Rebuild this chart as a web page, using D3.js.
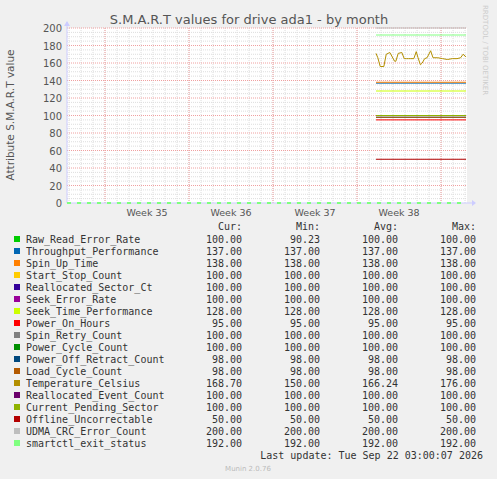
<!DOCTYPE html>
<html>
<head>
<script src="https://d3js.org/d3.v7.min.js"></script>
<style>
  body { margin: 0; background: #f0f0f0; }
  text { font-family: "DejaVu Sans", sans-serif; }
  .mono { font-family: "DejaVu Sans Mono", monospace; font-size: 10px; fill: #333; }
</style>
</head>
<body>
<svg id="chart" width="497" height="479"></svg>
<script>
const names = ["Raw_Read_Error_Rate", "Throughput_Performance", "Spin_Up_Time", "Start_Stop_Count",
  "Reallocated_Sector_Ct", "Seek_Error_Rate", "Seek_Time_Performance", "Power_On_Hours",
  "Spin_Retry_Count", "Power_Cycle_Count", "Power_Off_Retract_Count", "Load_Cycle_Count",
  "Temperature_Celsius", "Reallocated_Event_Count", "Current_Pending_Sector", "Offline_Uncorrectable",
  "UDMA_CRC_Error_Count", "smartctl_exit_status"];
const colors = ["#00cc00", "#0066b3", "#ff8000", "#ffcc00", "#330099", "#990099", "#ccff00", "#ff0000",
  "#808080", "#008f00", "#00487d", "#b35a00", "#b38f00", "#6b006b", "#8fb300", "#b30000",
  "#bebebe", "#80ff80"];
const cur = [100, 137, 138, 100, 100, 100, 128, 95, 100, 100, 98, 98, 168.70, 100, 100, 50, 200, 192];
const mins = [90.23, 137, 138, 100, 100, 100, 128, 95, 100, 100, 98, 98, 150, 100, 100, 50, 200, 192];
const avgs = [100, 137, 138, 100, 100, 100, 128, 95, 100, 100, 98, 98, 166.24, 100, 100, 50, 200, 192];
const maxs = [100, 137, 138, 100, 100, 100, 128, 95, 100, 100, 98, 98, 176, 100, 100, 50, 200, 192];
// days since plot start
const dataStart = 25.75, dataEnd = 33.25;
const tempDays = [25.75, 25.9, 26.1, 26.4, 26.6, 26.75, 26.9, 27.3, 27.4, 27.6, 27.9, 28.1, 28.3, 28.45, 28.6,
  28.9, 29.1, 29.25, 29.45, 29.6, 29.8, 30.0, 30.3, 30.5, 30.9, 31.3, 31.7, 32.1, 32.5, 32.8, 33.0, 33.25];
const tempVals = [171, 166, 156, 156, 170, 171, 172, 162, 162, 171, 172, 165, 165, 165, 165,
  165, 173, 166, 158, 160, 165, 166, 174, 166, 166, 165, 164, 165, 165, 166, 170, 167];
const weekLabels = ["Week 35", "Week 36", "Week 37", "Week 38"];
const yTicks = [0, 20, 40, 60, 80, 100, 120, 140, 160, 180, 200];

const svg = d3.select("#chart");
const x = d3.scaleLinear().domain([0, 33.33]).range([67, 467]);
const y = d3.scaleLinear().domain([0, 200]).range([203, 28]);
const firstWeek = 38 / 12; // first week boundary in days

svg.append("rect").attr("x", 67).attr("y", 28).attr("width", 400).attr("height", 175).attr("fill", "#fff");

// minor grid
for (let d = firstWeek - 3; d < 33.33; d += 1) {
  if (d <= 0) continue;
  svg.append("line").attr("x1", x(d)).attr("x2", x(d)).attr("y1", 28).attr("y2", 203)
    .attr("stroke", "#ddd").attr("stroke-dasharray", "1,1");
}
for (let v = 5; v <= 200; v += 5) {
  svg.append("line").attr("x1", 67).attr("x2", 467).attr("y1", y(v)).attr("y2", y(v))
    .attr("stroke", v % 20 === 0 ? "#f0a0a0" : "#ddd").attr("stroke-dasharray", "1,1");
}
for (let i = 0; i < 5; i++) {
  const d = firstWeek + i * 7;
  svg.append("line").attr("x1", x(d)).attr("x2", x(d)).attr("y1", 28).attr("y2", 203)
    .attr("stroke", "#f0a0a0").attr("stroke-dasharray", "1,1");
}

// axes
svg.append("line").attr("x1", 67).attr("x2", 472).attr("y1", 203).attr("y2", 203).attr("stroke", "#ccf");
svg.append("line").attr("x1", 67).attr("x2", 67).attr("y1", 22).attr("y2", 203).attr("stroke", "#ccf");
svg.append("path").attr("d", "M472,200 L476,203 L472,206 Z").attr("fill", "#ccf");
svg.append("path").attr("d", "M64,26 L67,21 L70,26 Z").attr("fill", "#ccf");
svg.append("line").attr("x1", 67).attr("x2", 467).attr("y1", y(0)).attr("y2", y(0))
  .attr("stroke", "#80ff80").attr("stroke-width", 2).attr("stroke-dasharray", "4,6");

svg.selectAll(".yt").data(yTicks).join("text")
  .attr("x", 62).attr("y", d => y(d) + 4).attr("text-anchor", "end")
  .attr("font-size", 10).attr("fill", "#555").text(d => d);
svg.selectAll(".wk").data(weekLabels).join("text")
  .attr("x", (d, i) => x(firstWeek + i * 7 + 3.5)).attr("y", 216).attr("text-anchor", "middle")
  .attr("font-size", 9.5).attr("fill", "#555").text(d => d);

// series
const line = d3.line().x(d => x(d[0])).y(d => y(d[1]));
names.forEach((n, i) => {
  if (i === 0) return;
  const pts = n === "Temperature_Celsius" ? tempDays.map((d, j) => [d, tempVals[j]])
    : [[dataStart, cur[i]], [dataEnd, cur[i]]];
  svg.append("path").attr("d", line(pts)).attr("fill", "none")
    .attr("stroke", colors[i]).attr("stroke-width", 1);
});

svg.append("text").attr("x", 249).attr("y", 24).attr("text-anchor", "middle")
  .attr("font-size", 13).attr("fill", "#555").text("S.M.A.R.T values for drive ada1 - by month");
svg.append("text").attr("transform", "translate(14,115) rotate(-90)").attr("text-anchor", "middle")
  .attr("font-size", 10.5).attr("fill", "#555").text("Attribute S.M.A.R.T value");
svg.append("text").attr("transform", "translate(483,5) rotate(90)")
  .attr("font-size", 7).attr("fill", "#ccc").text("RRDTOOL / TOBI OETIKER");

// legend
const cols = [242, 320, 398, 476];
["Cur:", "Min:", "Avg:", "Max:"].forEach((h, k) => {
  svg.append("text").attr("class", "mono").attr("x", cols[k]).attr("y", 230)
    .attr("text-anchor", "end").text(h);
});
const fmt = d3.format(".2f");
names.forEach((n, i) => {
  const ry = 243 + i * 12;
  svg.append("rect").attr("x", 14).attr("y", ry - 7).attr("width", 6).attr("height", 6).attr("fill", colors[i]);
  svg.append("text").attr("class", "mono").attr("x", 26).attr("y", ry).text(n);
  [cur[i], mins[i], avgs[i], maxs[i]].forEach((v, k) => {
    svg.append("text").attr("class", "mono").attr("x", cols[k]).attr("y", ry)
      .attr("text-anchor", "end").text(fmt(v));
  });
});
svg.append("text").attr("class", "mono").attr("x", 483).attr("y", 459).attr("text-anchor", "end")
  .text("Last update: Tue Sep 22 03:00:07 2026");
svg.append("text").attr("x", 248).attr("y", 471).attr("text-anchor", "middle")
  .attr("font-size", 7).attr("fill", "#bbb").text("Munin 2.0.76");
</script>
</body>
</html>
